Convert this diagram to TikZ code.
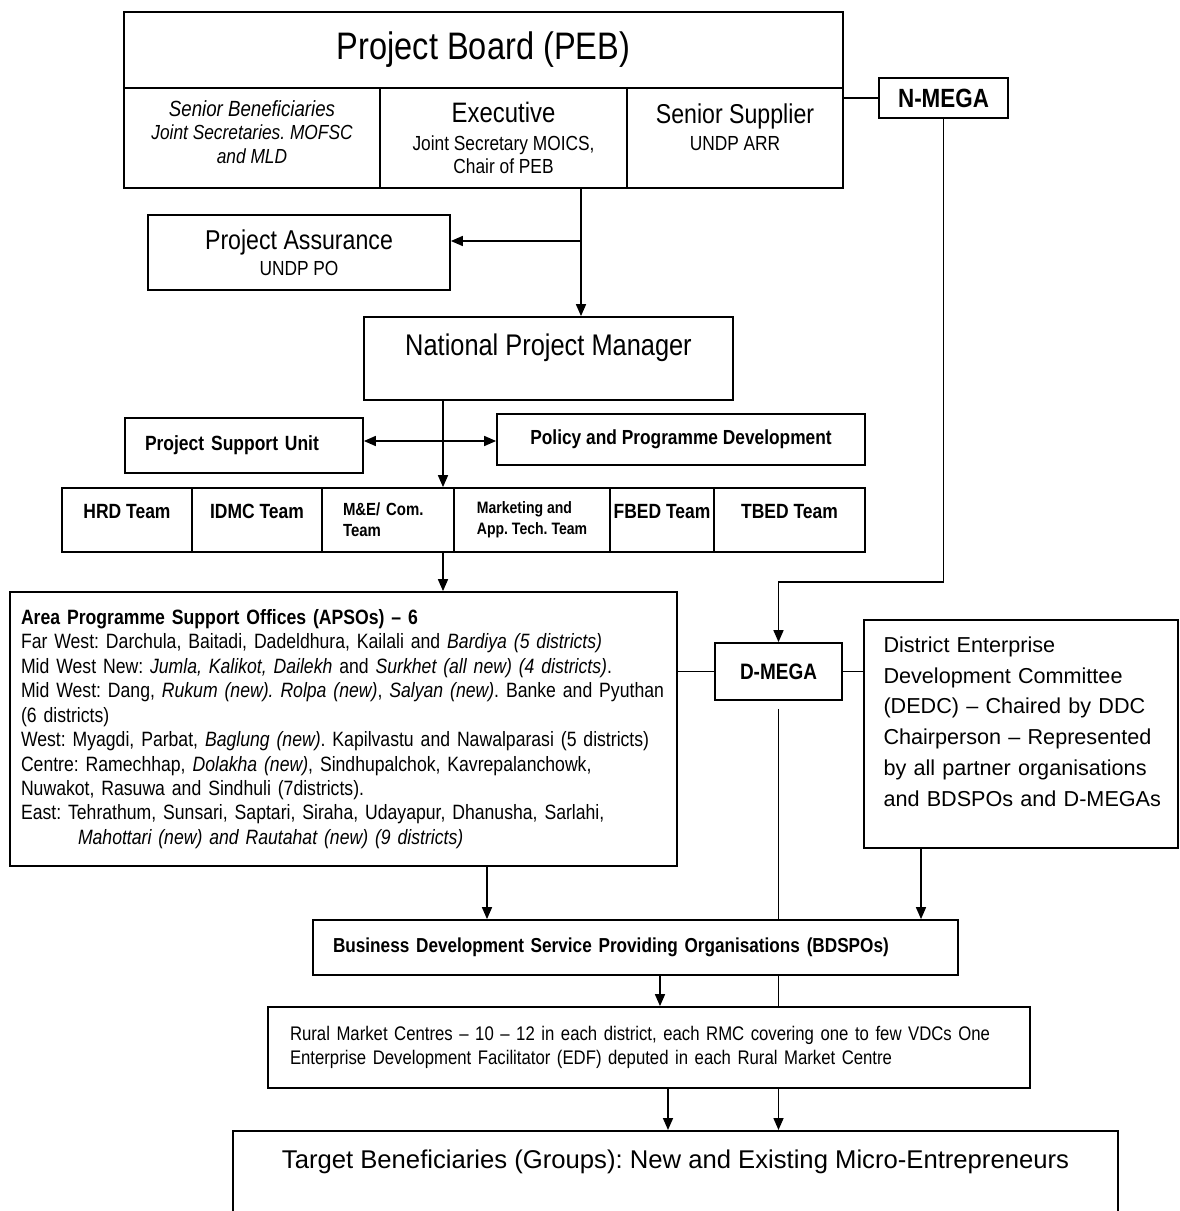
\documentclass[tikz,border=0pt]{standalone}
\usepackage{fontspec}
\setmainfont{Liberation Sans}[FakeStretch=0.85]
\newfontfamily\widesf{Liberation Sans}
\usetikzlibrary{arrows.meta, backgrounds}
\newcommand{\fsz}[2]{\fontsize{#1}{#2}\selectfont}
\frenchspacing

\begin{document}
\begin{tikzpicture}[
    box/.style={draw, line width=1pt, fill=white, inner sep=0pt, align=center},
    team/.style={box, minimum height=1.28cm, font=\bfseries\fsz{11.7}{11.9}},
    arrow/.style={-{Triangle[length=2.4mm, width=2mm]}, line width=0.9pt},
    link/.style={line width=0.9pt}
]
    \useasboundingbox (0,0) rectangle (23.58,-24.22);
    \clip (0,0) rectangle (23.58,-24.22);

    % project board
    \node[box, minimum width=14.38cm, minimum height=1.52cm, font=\fsz{21.8}{24}] (peb) at (9.67,-1.0) {Project Board (PEB)};
    \node[box, minimum width=5.12cm, minimum height=2cm, font=\fsz{11.6}{13.3}\itshape, text depth=0.24cm] (senben) at (5.04,-2.76)
        {{\fsz{12.5}{14}Senior Beneficiaries}\\Joint Secretaries. MOFSC\\and MLD};
    \node[box, minimum width=4.94cm, minimum height=2cm, font=\fsz{11.6}{13.3}] (exec) at (10.07,-2.76)
        {{\fsz{16}{18}Executive}\\[2.5pt]Joint Secretary MOICS,\\Chair of PEB};
    \node[box, minimum width=4.32cm, minimum height=2cm, font=\fsz{11.6}{13.3}, text depth=0.43cm] (supp) at (14.7,-2.76)
        {{\fsz{15.5}{18}Senior Supplier}\\[2pt]UNDP ARR};
    \node[box, minimum width=2.58cm, minimum height=0.8cm, font=\bfseries\fsz{15}{17}] (nmega) at (18.87,-1.96) {N-MEGA};

    % management
    \node[box, minimum width=6.04cm, minimum height=1.5cm, font=\fsz{11.6}{13.3}] (pa) at (5.98,-5.05)
        {{\fsz{15.5}{18}Project Assurance}\\[1.4pt]UNDP PO};
    \node[box, minimum width=7.38cm, minimum height=1.66cm, font=\fsz{17}{20}, text depth=0.56cm] (npm) at (10.97,-7.17) {National Project Manager};
    \node[box, minimum width=4.76cm, minimum height=1.1cm, text width=3.96cm, align=left, font=\bfseries\fsz{11.7}{14}] (psu) at (4.88,-8.91) {Project Support Unit};
    \node[box, minimum width=7.36cm, minimum height=1.02cm, font=\bfseries\fsz{11.6}{14}] (ppd) at (13.62,-8.79) {Policy and Programme Development};

    % teams
    \node[team, minimum width=2.6cm, text depth=0.33cm] (hrd) at (2.54,-10.4) {HRD Team};
    \node[team, minimum width=2.6cm, text depth=0.33cm] (idmc) at (5.14,-10.4) {IDMC Team};
    \node[team, minimum width=2.64cm, text width=1.8cm, align=left, font=\bfseries\fsz{10}{11.9}] (me) at (7.76,-10.4) {M\&E/ Com.\\Team};
    \node[team, minimum width=3.12cm, align=left, font=\bfseries\fsz{9.4}{11.9}] (mkt) at (10.64,-10.4) {Marketing and\\App. Tech. Team};
    \node[team, minimum width=2.08cm, text depth=0.33cm] (fbed) at (13.24,-10.4) {FBED Team};
    \node[team, minimum width=3.02cm, text depth=0.33cm] (tbed) at (15.79,-10.4) {TBED Team};

    % district level
    \node[box, minimum width=13.34cm, minimum height=5.48cm, text width=12.9cm, align=left, font=\fsz{11.8}{13.9}] (apso) at (6.87,-14.58)
        {\mbox{\textbf{Area Programme Support Offices (APSOs) – 6}}\\
         \mbox{Far West: Darchula, Baitadi, Dadeldhura, Kailali and \textit{Bardiya (5 districts)}}\\
         \mbox{Mid West New: \textit{Jumla, Kalikot, Dailekh} and \textit{Surkhet (all new) (4 districts)}.}\\
         \mbox{Mid West: Dang, \textit{Rukum (new). Rolpa (new)}, \textit{Salyan (new)}. Banke and Pyuthan}\\
         (6 districts)\\
         \mbox{West: Myagdi, Parbat, \textit{Baglung (new)}. Kapilvastu and Nawalparasi (5 districts)}\\
         \mbox{Centre: Ramechhap, \textit{Dolakha (new)}, Sindhupalchok, Kavrepalanchowk,}\\
         \mbox{Nuwakot, Rasuwa and Sindhuli (7districts).}\\
         \mbox{East: Tehrathum, Sunsari, Saptari, Siraha, Udayapur, Dhanusha, Sarlahi,}\\
         \mbox{\hspace*{1.14cm}\textit{Mahottari (new) and Rautahat (new) (9 districts)}}};
    \node[box, minimum width=2.54cm, minimum height=1.14cm, font=\bfseries\fsz{12.7}{15}] (dmega) at (15.57,-13.43) {D-MEGA};
    \node[box, minimum width=6.28cm, minimum height=4.56cm, text width=5.5cm, align=left, font=\widesf\fsz{12.3}{17.5}] (dedc) at (20.42,-14.68)
        {District Enterprise\\Development Committee\\(DEDC) – Chaired by DDC\\Chairperson – Represented\\by all partner organisations\\\mbox{and BDSPOs and D-MEGAs}\rule[-0.5cm]{0pt}{0pt}};

    % field level
    \node[box, minimum width=12.9cm, minimum height=1.1cm, text width=12.1cm, align=left, font=\bfseries\fsz{11.5}{13}] (bdspo) at (12.71,-18.95)
        {Business Development Service Providing Organisations (BDSPOs)};
    \node[box, minimum width=15.24cm, minimum height=1.62cm, text width=14.36cm, align=left, font=\fsz{11.2}{13.6}] (rmc) at (12.98,-20.95)
        {Rural Market Centres – 10 – 12 in each district, each RMC covering one to few VDCs One\\Enterprise Development Facilitator (EDF) deputed in each Rural Market Centre};
    \node[box, anchor=north, minimum width=17.7cm, inner ysep=0.38cm, text depth=1.3cm, font=\widesf\fsz{14.6}{17}] (target) at (13.51,-22.6)
        {Target Beneficiaries (Groups): New and Existing Micro-Entrepreneurs};

    % connectors
    \begin{scope}[on background layer]
        \draw[link] (nmega.west) -- (nmega.west -| supp.east);
        \draw[arrow] (nmega.south) |- ([yshift=1.2cm]dmega.north) -- (dmega.north);
        \coordinate (pebout) at ([xshift=1.55cm]exec.south);
        \draw[arrow] (pebout) -- (pebout |- npm.north);
        \coordinate (pajoin) at (11.62,-4.82);
        \draw[arrow] (pajoin) -- (pajoin -| pa.east);
        \coordinate (npmout) at ([xshift=-2.11cm]npm.south);
        \draw[arrow] (npmout) -- (npmout |- hrd.north);
        \coordinate (psujoin) at (8.86,-8.82);
        \draw[arrow] (psujoin) -- (psujoin -| psu.east);
        \draw[arrow] (psujoin) -- (psujoin -| ppd.west);
        \coordinate (teamout) at ([xshift=1.1cm]me.south);
        \draw[arrow] (teamout) -- (teamout |- apso.north);
        \draw[link] (apso.east |- dmega.west) -- (dmega.west);
        \draw[link] (dmega.east) -- (dmega.east -| dedc.west);
        \coordinate (dmegaout) at ([yshift=-0.16cm]dmega.south);
        \draw[arrow] (dmegaout) -- (dmegaout |- target.north);
        \coordinate (apsoout) at ([xshift=2.87cm]apso.south);
        \draw[arrow] (apsoout) -- (apsoout |- bdspo.north);
        \coordinate (dedcout) at ([xshift=-2cm]dedc.south);
        \draw[arrow] (dedcout) -- (dedcout |- bdspo.north);
        \coordinate (bdspoout) at ([xshift=0.49cm]bdspo.south);
        \draw[arrow] (bdspoout) -- (bdspoout |- rmc.north);
        \coordinate (rmcout) at ([xshift=0.38cm]rmc.south);
        \draw[arrow] (rmcout) -- (rmcout |- target.north);
    \end{scope}
\end{tikzpicture}
\end{document}
